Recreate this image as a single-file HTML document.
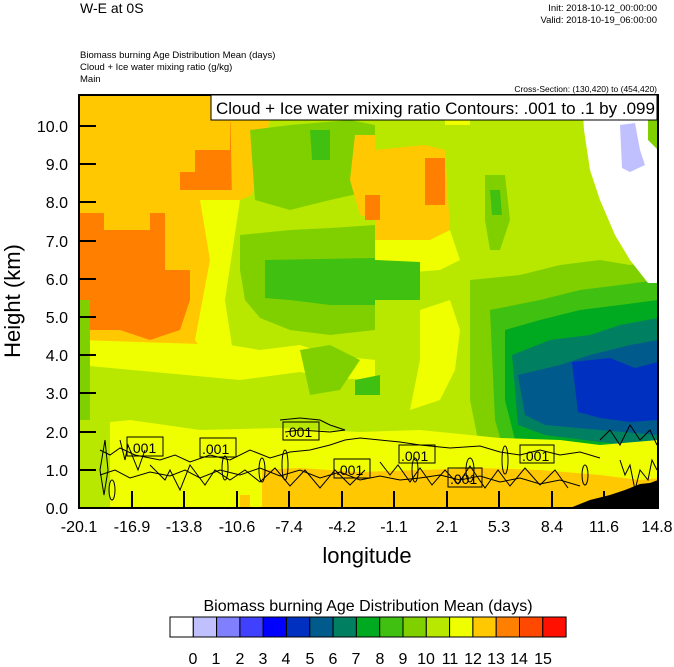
<!DOCTYPE html>
<html><head><meta charset="utf-8"><style>
body{margin:0;background:#fff;width:674px;height:667px;overflow:hidden}
svg{display:block}
text{font-family:"Liberation Sans",sans-serif}
</style></head><body>
<svg width="674" height="667" viewBox="0 0 674 667" xmlns="http://www.w3.org/2000/svg">
<text x="80" y="13" font-size="14">W-E at 0S</text>
<text x="657" y="11" font-size="9.5" text-anchor="end">Init: 2018-10-12_00:00:00</text>
<text x="657" y="23" font-size="9.5" text-anchor="end">Valid: 2018-10-19_06:00:00</text>
<text x="80" y="58" font-size="9.5">Biomass burning Age Distribution Mean    (days)</text>
<text x="80" y="70" font-size="9.5">Cloud + Ice water mixing ratio    (g/kg)</text>
<text x="80" y="82" font-size="9.5">Main</text>
<text x="657" y="92" font-size="8.5" text-anchor="end">Cross-Section: (130,420) to (454,420)</text>
<defs><clipPath id="pc"><rect x="79" y="95" width="579" height="413"/></clipPath></defs>
<g clip-path="url(#pc)">
<rect x="79" y="95" width="579" height="413" fill="#b8e800"/>
<polygon points="79,95 230,95 235,200 232,260 222,330 210,355 79,355" fill="#ffc800"/>
<polygon points="79,213 104,213 104,230 150,230 150,213 165,213 165,270 190,270 190,300 180,330 150,340 120,330 79,330" fill="#ff8000"/>
<polygon points="230,122 262,122 262,150 250,150 250,190 180,190 180,172 195,172 195,150 230,150" fill="#ff8000"/>
<polygon points="230,95 272,95 268,130 262,150 252,195 240,200 232,200" fill="#ffc800"/>
<polygon points="79,340 230,345 260,350 300,345 330,355 375,360 375,380 330,378 300,372 240,380 79,365" fill="#f0ff00"/>
<polygon points="200,200 240,200 235,250 225,300 232,345 210,360 195,340 210,260" fill="#f0ff00"/>
<polygon points="240,200 260,200 250,255 240,330 232,345 225,300" fill="#b8e800"/>
<polygon points="240,235 290,230 330,228 375,225 375,330 330,335 290,330 260,318 245,300 240,270" fill="#80d000"/>
<polygon points="265,260 375,258 375,305 330,305 290,300 265,298" fill="#40c010"/>
<polygon points="250,130 290,125 350,120 375,125 375,190 330,200 290,210 255,200" fill="#80d000"/>
<polygon points="355,135 375,135 375,220 360,215 350,180" fill="#ffc800"/>
<polygon points="310,130 330,130 330,160 312,160" fill="#40c010"/>
<polygon points="375,150 425,145 445,150 450,230 430,240 380,245 375,240" fill="#ffc800"/>
<polygon points="425,158 445,158 445,205 425,205" fill="#ff8000"/>
<polygon points="365,195 380,195 380,220 365,220" fill="#ff8000"/>
<polygon points="375,240 430,240 450,230 460,260 440,270 375,275" fill="#f0ff00"/>
<polygon points="445,100 470,100 470,125 445,125" fill="#f0ff00"/>
<polygon points="485,175 505,175 510,220 500,250 490,250 485,220" fill="#80d000"/>
<polygon points="490,190 500,190 502,215 492,215" fill="#40c010"/>
<polygon points="375,260 420,262 420,300 375,300" fill="#40c010"/>
<polygon points="355,380 380,375 380,395 355,395" fill="#40c010"/>
<polygon points="420,310 450,300 460,330 455,370 440,400 410,410 420,360" fill="#f0ff00"/>
<polygon points="300,350 330,345 360,360 340,390 310,395" fill="#80d000"/>
<polygon points="470,280 520,275 560,265 600,260 630,265 658,260 658,480 600,470 540,468 500,470 480,450 470,400" fill="#80d000"/>
<polygon points="490,310 540,300 580,290 620,285 658,280 658,475 600,460 540,458 505,455 495,420" fill="#40c010"/>
<polygon points="505,330 540,320 580,310 620,305 658,300 658,460 600,450 540,445 515,440 505,400" fill="#00aa20"/>
<polygon points="512,355 550,340 590,335 620,325 658,318 658,448 600,442 545,435 518,425" fill="#008060"/>
<polygon points="518,375 560,365 590,355 630,345 658,340 658,435 600,430 545,425 525,415" fill="#005a8c"/>
<polygon points="572,362 610,358 635,368 658,362 658,420 630,422 600,418 578,412" fill="#0030c0"/>
<polygon points="582,95 658,95 658,283 648,283 630,260 615,235 600,200 590,170 584,130" fill="#ffffff"/>
<polygon points="620,125 635,123 640,150 645,165 630,172 622,168" fill="#c0c0ff"/>
<polygon points="648,95 658,95 658,150 648,140" fill="#80d000"/>
<polygon points="79,425 130,420 200,430 280,428 360,432 420,430 500,438 560,440 600,445 658,440 658,508 79,508" fill="#f0ff00"/>
<polygon points="79,420 110,420 110,508 79,508" fill="#b8e800"/>
<polygon points="262,470 300,468 360,472 420,470 480,468 540,470 600,475 640,480 658,478 658,508 262,508" fill="#ffc800"/>
<polygon points="240,495 250,495 250,508 240,508" fill="#ffc800"/>
<polygon points="79,300 90,300 90,420 79,420" fill="#80d000"/>
<polygon points="570,508 590,500 610,495 625,490 640,484 650,483 658,480 658,508" fill="#000"/>
</g>
<g fill="none" stroke="#000" stroke-width="1">
<polyline points="100,450 110,455 120,448 135,455 160,460 175,455 190,462 210,455 230,460 250,450 270,458 290,452 310,450 330,445 345,440 360,438 380,440 400,442 420,445 450,448 480,446 500,452 520,455 540,450 560,455 580,452 600,458"/>
<polyline points="100,475 115,470 130,478 150,472 170,476 185,470 200,478 220,470 240,475 260,468 280,476 300,470 320,478 340,472 360,480 380,476 400,480 420,478 440,475 460,480 480,476 500,482 520,478 540,484 560,480 580,486"/>
<polyline points="105,440 108,470 104,495 100,470 105,440"/>
<polyline points="280,420 300,418 320,420 330,425 345,430 330,432 300,430 285,432"/>
<polyline points="150,465 165,480 170,470 180,490 190,465 205,485 215,470 230,480 245,470 260,482 275,468 290,486 305,470 320,488 335,470 350,485 365,470"/>
<polyline points="380,462 390,475 398,465 410,482 420,468 432,485 445,470 458,484 470,466 485,488 498,470 510,486 525,468 540,485 555,470 568,488"/>
<polyline points="120,440 125,460 128,445 138,470 145,450"/>
<polyline points="620,460 625,475 630,465 635,490 640,470 648,480 652,460 657,470"/>
<polyline points="600,440 610,430 620,445 630,425 640,440 650,430 657,445"/>
<ellipse cx="262" cy="470" rx="3" ry="12"/><ellipse cx="285" cy="465" rx="3" ry="15"/><ellipse cx="470" cy="470" rx="4" ry="12"/><ellipse cx="505" cy="460" rx="3" ry="14"/><ellipse cx="585" cy="475" rx="3" ry="10"/><ellipse cx="112" cy="490" rx="3" ry="10"/><ellipse cx="225" cy="468" rx="3" ry="12"/><ellipse cx="415" cy="470" rx="3" ry="12"/>
</g>
<g font-size="14" stroke="#000" stroke-width="1">
<rect x="127" y="437" width="36" height="19" fill="none"/><text x="129" y="453" stroke="none">.001</text>
<rect x="200" y="438" width="36" height="19" fill="none"/><text x="202" y="454" stroke="none">.001</text>
<rect x="283" y="422" width="36" height="18" fill="none"/><text x="285" y="437" stroke="none">.001</text>
<rect x="334" y="459" width="36" height="19" fill="none"/><text x="336" y="475" stroke="none">.001</text>
<rect x="399" y="445" width="36" height="18" fill="none"/><text x="401" y="461" stroke="none">.001</text>
<rect x="448" y="468" width="34" height="19" fill="none"/><text x="450" y="484" stroke="none">.001</text>
<rect x="520" y="445" width="34" height="18" fill="none"/><text x="522" y="461" stroke="none">.001</text>
</g>
<rect x="79" y="95" width="579" height="413" fill="none" stroke="#000" stroke-width="2"/>
<rect x="211" y="95" width="446" height="25" fill="#fff" stroke="#000" stroke-width="1"/>
<text x="216" y="114" font-size="17">Cloud + Ice water mixing ratio Contours: .001 to .1 by .099</text>
<g stroke="#000" stroke-width="2">
<line x1="79" y1="508" x2="96" y2="508"/><line x1="79" y1="470" x2="96" y2="470"/><line x1="79" y1="432" x2="96" y2="432"/><line x1="79" y1="393" x2="96" y2="393"/><line x1="79" y1="355" x2="96" y2="355"/><line x1="79" y1="317" x2="96" y2="317"/><line x1="79" y1="279" x2="96" y2="279"/><line x1="79" y1="241" x2="96" y2="241"/><line x1="79" y1="202" x2="96" y2="202"/><line x1="79" y1="164" x2="96" y2="164"/><line x1="79" y1="126" x2="96" y2="126"/>
<line x1="132" y1="491" x2="132" y2="508"/><line x1="184" y1="491" x2="184" y2="508"/><line x1="237" y1="491" x2="237" y2="508"/><line x1="289" y1="491" x2="289" y2="508"/><line x1="342" y1="491" x2="342" y2="508"/><line x1="394" y1="491" x2="394" y2="508"/><line x1="447" y1="491" x2="447" y2="508"/><line x1="499" y1="491" x2="499" y2="508"/><line x1="552" y1="491" x2="552" y2="508"/><line x1="604" y1="491" x2="604" y2="508"/>
</g>
<g font-size="16" text-anchor="end">
<text x="68" y="514">0.0</text><text x="68" y="476">1.0</text><text x="68" y="438">2.0</text><text x="68" y="399">3.0</text><text x="68" y="361">4.0</text><text x="68" y="323">5.0</text><text x="68" y="285">6.0</text><text x="68" y="247">7.0</text><text x="68" y="208">8.0</text><text x="68" y="170">9.0</text><text x="68" y="132">10.0</text>
</g>
<g font-size="16" text-anchor="middle">
<text x="79" y="532">-20.1</text><text x="132" y="532">-16.9</text><text x="184" y="532">-13.8</text><text x="237" y="532">-10.6</text><text x="289" y="532">-7.4</text><text x="342" y="532">-4.2</text><text x="394" y="532">-1.1</text><text x="447" y="532">2.1</text><text x="499" y="532">5.3</text><text x="552" y="532">8.4</text><text x="604" y="532">11.6</text><text x="657" y="532">14.8</text>
</g>
<text x="367" y="563" font-size="22" text-anchor="middle">longitude</text>
<text transform="translate(20,301) rotate(-90)" font-size="22" text-anchor="middle">Height (km)</text>
<text x="368" y="611" font-size="16" text-anchor="middle">Biomass burning Age Distribution Mean  (days)</text>
<g stroke="#000" stroke-width="1">
<rect x="170" y="617" width="23.3" height="20" fill="#ffffff"/><rect x="193.3" y="617" width="23.3" height="20" fill="#c0c0ff"/><rect x="216.6" y="617" width="23.3" height="20" fill="#8080ff"/><rect x="239.9" y="617" width="23.3" height="20" fill="#4040ff"/><rect x="263.2" y="617" width="23.3" height="20" fill="#0000ff"/><rect x="286.5" y="617" width="23.3" height="20" fill="#0030c0"/><rect x="309.8" y="617" width="23.3" height="20" fill="#005a8c"/><rect x="333.1" y="617" width="23.3" height="20" fill="#008060"/><rect x="356.4" y="617" width="23.3" height="20" fill="#00aa20"/><rect x="379.7" y="617" width="23.3" height="20" fill="#40c010"/><rect x="403" y="617" width="23.3" height="20" fill="#80d000"/><rect x="426.3" y="617" width="23.3" height="20" fill="#b8e800"/><rect x="449.6" y="617" width="23.3" height="20" fill="#f0ff00"/><rect x="472.9" y="617" width="23.3" height="20" fill="#ffc800"/><rect x="496.2" y="617" width="23.3" height="20" fill="#ff8000"/><rect x="519.5" y="617" width="23.3" height="20" fill="#ff4800"/><rect x="542.8" y="617" width="23.3" height="20" fill="#ff1000"/>
</g>
<g font-size="16" text-anchor="middle">
<text x="193" y="664">0</text><text x="216" y="664">1</text><text x="240" y="664">2</text><text x="263" y="664">3</text><text x="286" y="664">4</text><text x="310" y="664">5</text><text x="333" y="664">6</text><text x="356" y="664">7</text><text x="380" y="664">8</text><text x="403" y="664">9</text><text x="426" y="664">10</text><text x="450" y="664">11</text><text x="473" y="664">12</text><text x="496" y="664">13</text><text x="519" y="664">14</text><text x="543" y="664">15</text>
</g>
</svg>
</body></html>
